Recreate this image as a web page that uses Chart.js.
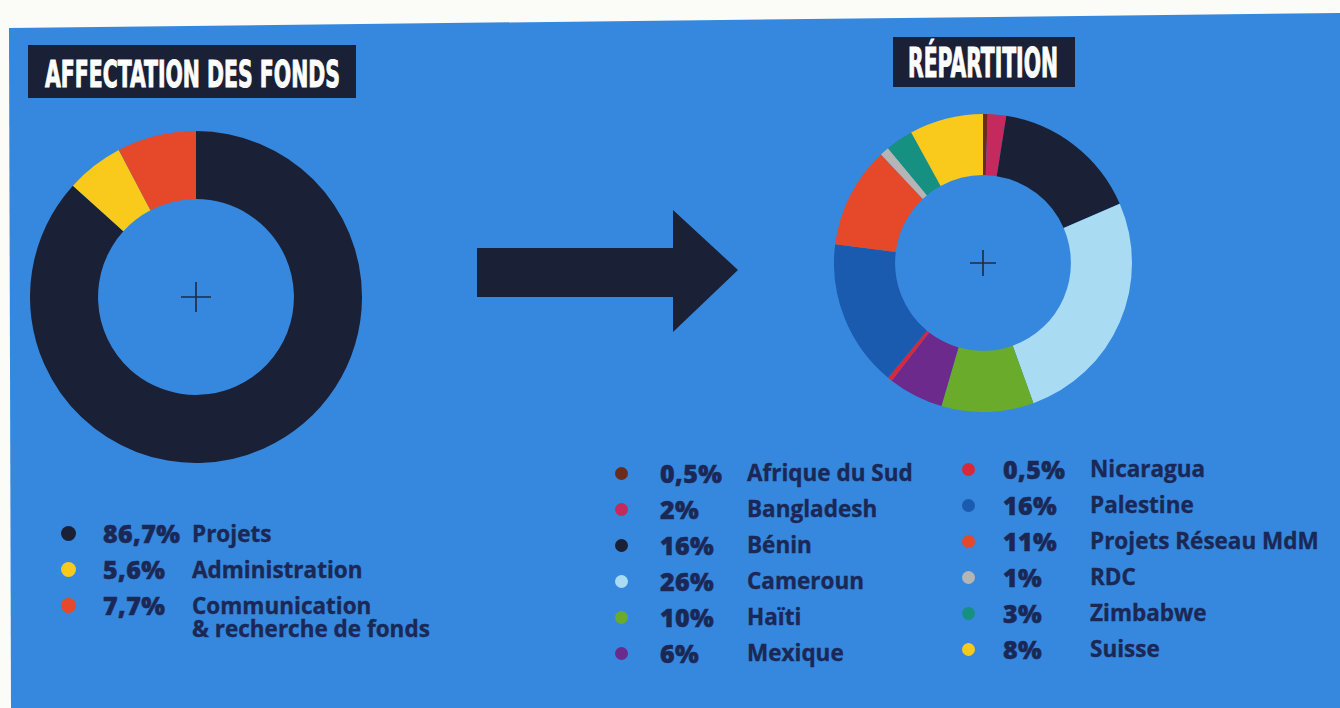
<!DOCTYPE html>
<html>
<head>
<meta charset="utf-8">
<script src="https://cdn.jsdelivr.net/npm/chart.js@4.4.1/dist/chart.umd.min.js"></script>
<style>
  html, body { margin:0; padding:0; width:1340px; height:708px; overflow:hidden; background:#fbfbf8; }
  #panel { position:absolute; left:0; top:0; width:1340px; height:708px; background:#3588dd;
           clip-path:polygon(9px 28px, 1340px 13px, 1340px 708px, 11px 708px); }
  .title { position:absolute; background:#1a2036; }
  .title span { position:absolute; color:#fff; white-space:nowrap; transform-origin:0 0;
                font-family:"Liberation Sans Narrow","DejaVu Sans Condensed",sans-serif; font-weight:700; line-height:1;
                -webkit-text-stroke:1px #fff; }
  .box { position:absolute; }
  .legend { position:absolute; left:0; top:0; font-family:"Open Sans",sans-serif; color:#1b2856; }
  .row { position:absolute; white-space:nowrap; height:24px; line-height:24px; }
  .dot { position:absolute; border-radius:50%; }
  .pct { position:absolute; font-weight:800; letter-spacing:0.4px; -webkit-text-stroke:0.5px #1b2856; }
  .lab { position:absolute; font-weight:700; -webkit-text-stroke:0.35px #1b2856; }
</style>
</head>
<body>
<div id="panel">
  <div class="title" style="left:28px;top:45px;width:328px;height:53px;"><span id="t1" style="left:17px;top:10px;font-size:38px;">AFFECTATION DES FONDS</span></div>
  <div class="title" style="left:893px;top:37px;width:182px;height:50px;"><span id="t2" style="left:15px;top:6px;font-size:40px;">RÉPARTITION</span></div>

  <svg style="position:absolute;left:0;top:0" width="1340" height="708">
    <polygon points="477,248 673,248 673,210 738,270 673,332 673,297 477,297" fill="#1a2036"/>
  </svg>

  <div class="box" style="left:30px;top:131px;width:332px;height:332px;"><canvas id="fundsChart"></canvas></div>
  <div class="box" style="left:834px;top:114px;width:298px;height:298px;"><canvas id="splitChart"></canvas></div>

  <div class="legend" id="fundsLegend"></div>
  <div class="legend" id="splitLegend"></div>
</div>

<script>
// ── Data ───────────────────────────────────────────────────────────────────
const FUND_LABELS = ['Projets', 'Administration', 'Communication\n& recherche de fonds'];
const FUND_VALUES = [86.7, 5.6, 7.7];
const FUND_COLORS = ['#1a2036', '#f9c91c', '#e5492a'];

const SPLIT_LABELS = ['Afrique du Sud', 'Bangladesh', 'Bénin', 'Cameroun', 'Haïti', 'Mexique',
                      'Nicaragua', 'Palestine', 'Projets Réseau MdM', 'RDC', 'Zimbabwe', 'Suisse'];
const SPLIT_VALUES = [0.5, 2, 16, 26, 10, 6, 0.5, 16, 11, 1, 3, 8];
const SPLIT_COLORS = ['#6a2c1c', '#c42a5e', '#1a2036', '#a9dcf3', '#6aab2c', '#6b2a8c',
                      '#d8283a', '#1a5bb0', '#e5492a', '#b5b5b5', '#169080', '#f9c91c'];

const fmt = v => String(v).replace('.', ',') + '%';

// ── Centre cross ───────────────────────────────────────────────────────────
const crossPlugin = {
  id: 'cross',
  afterDraw(chart, args, opts) {
    const { ctx, chartArea: a } = chart;
    const cx = (a.left + a.right) / 2, cy = (a.top + a.bottom) / 2, h = opts.size / 2;
    ctx.save();
    ctx.strokeStyle = '#1f2a40';
    ctx.lineWidth = 1.6;
    ctx.beginPath();
    ctx.moveTo(cx - h, cy); ctx.lineTo(cx + h, cy);
    ctx.moveTo(cx, cy - h); ctx.lineTo(cx, cy + h);
    ctx.stroke();
    ctx.restore();
  }
};

function donut(id, labels, values, colors, cross) {
  return new Chart(document.getElementById(id), {
    type: 'doughnut',
    data: { labels, datasets: [{ data: values, backgroundColor: colors, borderWidth: 0 }] },
    options: {
      responsive: true,
      maintainAspectRatio: false,
      animation: false,
      events: [],
      cutout: '59%',
      layout: { padding: 0 },
      plugins: { legend: { display: false }, tooltip: { enabled: false }, cross: { size: cross } }
    },
    plugins: [crossPlugin]
  });
}

// ── Legends ────────────────────────────────────────────────────────────────
function legendColumn(el, labels, values, colors, o) {
  let y = o.y0;
  el.innerHTML += labels.map((label, i) => {
    const lines = label.split('\n');
    const top = y - 12;
    y += o.step;
    return `<div class="row" style="left:0;top:${top}px;">
      <div class="dot" style="left:${o.dotX - o.dot / 2}px;top:${12 - o.dot / 2}px;width:${o.dot}px;height:${o.dot}px;background:${colors[i]}"></div>
      <div class="pct" style="left:${o.pctX}px;top:0;font-size:${o.pctFont}px">${fmt(values[i])}</div>
      <div class="lab" style="left:${o.labX}px;top:0;font-size:${o.font}px;line-height:${o.lh}px;margin-top:${(24 - o.lh) / 2}px">${lines.join('<br>')}</div>
    </div>`;
  }).join('');
}

function fitTitle(id, w) {
  const el = document.getElementById(id);
  el.style.transform = `scaleX(${w / el.getBoundingClientRect().width})`;
}

function init() {
  donut('fundsChart', FUND_LABELS, FUND_VALUES, FUND_COLORS, 30);
  donut('splitChart', SPLIT_LABELS, SPLIT_VALUES, SPLIT_COLORS, 26);

  const fl = document.getElementById('fundsLegend');
  legendColumn(fl, FUND_LABELS, FUND_VALUES, FUND_COLORS,
    { y0: 533, step: 36, font: 22.5, pctFont: 25, dot: 15, dotX: 68, pctX: 103, labX: 192, lh: 23 });

  const sl = document.getElementById('splitLegend');
  legendColumn(sl, SPLIT_LABELS.slice(0, 6), SPLIT_VALUES.slice(0, 6), SPLIT_COLORS.slice(0, 6),
    { y0: 473, step: 36, font: 22.5, pctFont: 25, dot: 13, dotX: 621, pctX: 660, labX: 747, lh: 24 });
  legendColumn(sl, SPLIT_LABELS.slice(6), SPLIT_VALUES.slice(6), SPLIT_COLORS.slice(6),
    { y0: 469, step: 36, font: 22.5, pctFont: 25, dot: 13, dotX: 968, pctX: 1003, labX: 1090, lh: 24 });

  fitTitle('t1', 295);
  fitTitle('t2', 150);
}

document.addEventListener('DOMContentLoaded', init);
</script>
</body>
</html>
